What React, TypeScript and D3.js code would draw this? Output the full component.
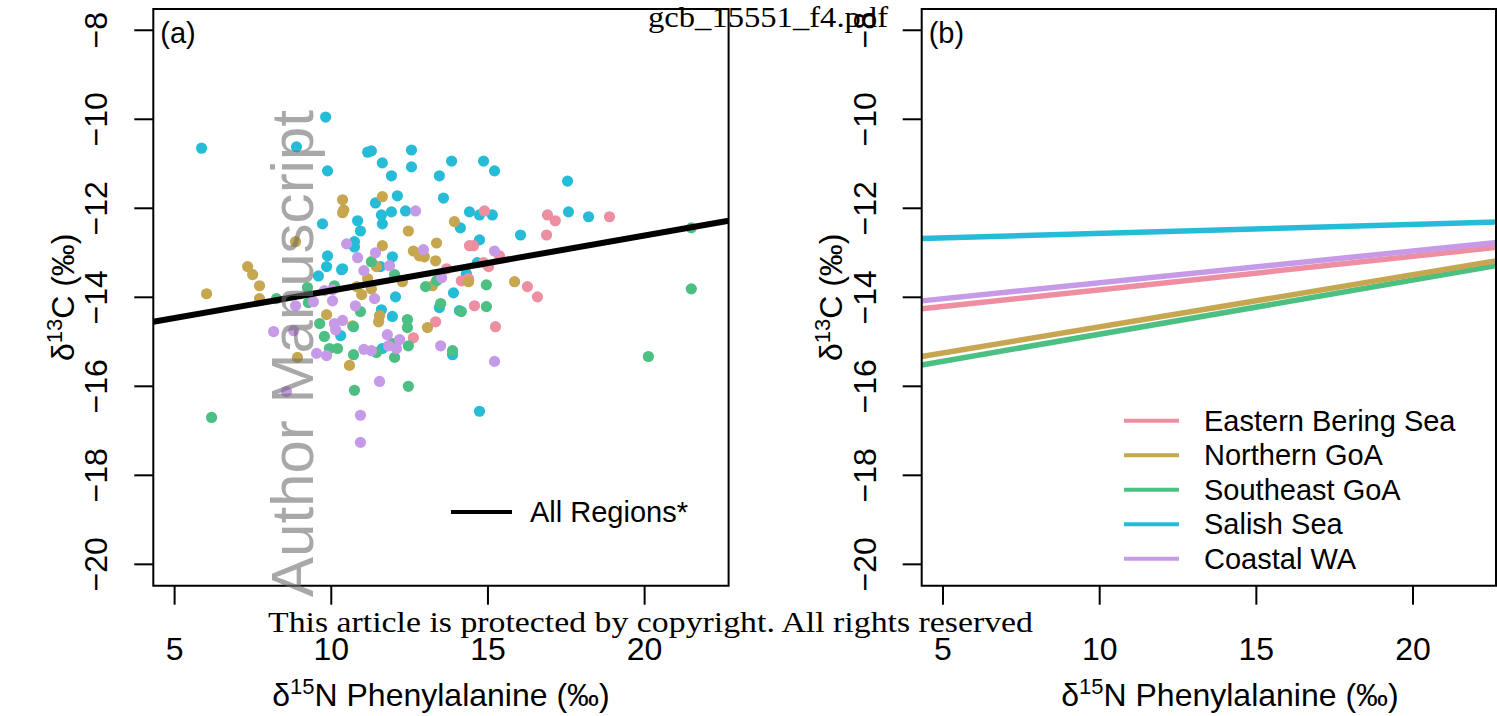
import React from 'react';
import * as d3 from 'd3';

// ---------- data ----------
const regions = ['Eastern Bering Sea', 'Northern GoA', 'Southeast GoA', 'Salish Sea', 'Coastal WA'];
const regionColors = ['#EE8EA1', '#C6A74F', '#4CC083', '#26BCD8', '#C79AE8'];

// [d15N Phe, d13C]
const ebsPoints = [
  [14.89, -12.06], [14.41, -12.84], [14.54, -12.84], [15.37, -13.07], [13.68, -13.36], [14.86, -13.22],
  [15.02, -13.31], [14.15, -13.63], [14.38, -13.58], [16.26, -13.76], [16.58, -13.99], [16.9, -12.15],
  [17.15, -12.28], [16.87, -12.6], [18.88, -12.19], [14.57, -14.19], [13.33, -14.55], [15.24, -14.66],
  [12.62, -14.91],
];
const ngoaPoints = [
  [10.36, -11.81], [10.4, -12.04], [10.36, -12.1], [8.86, -12.75], [7.33, -13.31], [7.49, -13.49],
  [7.71, -13.74], [7.71, -14.03], [6.02, -13.92], [11.63, -11.74], [13.93, -12.3], [12.46, -12.51],
  [11.63, -12.84], [13.36, -12.78], [12.62, -12.96], [12.81, -13.07], [12.97, -13.09], [13.33, -13.18],
  [11.44, -13.31], [11.16, -13.58], [14.38, -13.65], [12.27, -13.65], [15.85, -13.65], [13.23, -13.74],
  [10.81, -13.76], [10.97, -13.94], [11.28, -13.81], [9.85, -14.39], [8.92, -15.35], [10.58, -15.53],
  [11.54, -14.41], [11.51, -14.55], [13.07, -14.68], [10.68, -14.64],
];
const sgoaPoints = [
  [9.24, -13.78], [10.1, -13.74], [8.25, -14.03], [9.27, -14.12], [9.63, -14.59], [9.78, -14.88],
  [9.94, -15.15], [10.2, -15.15], [6.18, -16.7], [11.28, -13.2], [12.02, -13.49], [13.36, -13.63],
  [14.95, -13.72], [13.01, -13.76], [21.49, -12.44], [21.49, -13.81], [20.12, -15.33], [10.93, -14.32],
  [13.49, -14.14], [14.15, -14.32], [14.95, -14.21], [10.71, -14.66], [12.43, -14.5], [12.43, -14.68],
  [11.95, -15.04], [11.44, -15.24], [12.46, -15.09], [10.71, -15.29], [12.02, -15.35], [13.87, -15.2],
  [10.74, -16.09], [12.46, -16.0],
];
const salishPoints = [
  [9.82, -9.95], [5.86, -10.65], [8.89, -10.62], [9.88, -11.16], [9.72, -12.35], [9.88, -13.07],
  [9.85, -13.31], [9.59, -13.52], [10.33, -13.38], [11.16, -10.74], [11.28, -10.71], [12.56, -10.69],
  [11.63, -10.98], [12.56, -11.07], [11.92, -11.27], [13.84, -10.94], [14.86, -10.94], [15.21, -11.16],
  [13.45, -11.27], [12.11, -11.72], [13.58, -11.77], [11.41, -11.88], [11.92, -12.08], [12.37, -12.06],
  [11.6, -12.15], [11.63, -12.35], [10.84, -12.28], [10.93, -12.51], [14.41, -12.08], [14.73, -12.15],
  [15.14, -12.15], [14.12, -12.44], [16.04, -12.6], [14.73, -12.71], [10.74, -12.75], [10.74, -12.87],
  [11.95, -13.09], [11.57, -13.31], [10.36, -13.36], [14.66, -13.22], [14.31, -13.47], [13.9, -13.9],
  [12.05, -13.99], [11.6, -14.28], [11.95, -14.43], [13.45, -14.23], [14.09, -14.3], [10.3, -14.86],
  [11.63, -15.15], [13.87, -15.29], [14.73, -16.56], [17.54, -11.39], [17.57, -12.08], [18.21, -12.19],
];
const cwaPoints = [
  [10.49, -12.8], [9.78, -13.85], [10.04, -13.83], [8.86, -14.19], [9.43, -14.1], [10.04, -14.08],
  [10.1, -14.59], [10.36, -14.52], [10.14, -14.73], [8.16, -14.77], [8.8, -14.75], [9.53, -15.26],
  [9.85, -15.31], [8.57, -16.12], [12.69, -12.06], [12.94, -12.93], [15.21, -12.96], [10.84, -13.11],
  [11.41, -13.0], [11.86, -13.29], [11.04, -13.4], [13.52, -13.56], [11.38, -14.03], [10.77, -14.19],
  [11.79, -14.84], [12.18, -14.95], [11.83, -15.09], [12.08, -15.15], [11.04, -15.17], [11.28, -15.2],
  [13.49, -15.09], [15.21, -15.44], [11.54, -15.89], [10.93, -16.65], [10.93, -17.26],
];
const regionPoints = [ebsPoints, ngoaPoints, sgoaPoints, salishPoints, cwaPoints];

// fitted lines: d13C = intercept + slope * d15N
const regionIntercepts = [-14.585, -15.837, -16.046, -12.767, -14.389];
const regionSlopes = [0.0753, 0.1173, 0.1217, 0.0202, 0.0715];
const allIntercept = -15.084;
const allSlope = 0.1236;

const xTicks = [5, 10, 15, 20];
const yTicks = [-8, -10, -12, -14, -16, -18, -20];
const xDomain = [4.32, 22.68];
const yDomain = [-20.48, -7.52];

// ---------- layout ----------
const W = 1497;
const H = 716;
const top = 8.9;
const bottom = 585.7;
const FONT = "'Liberation Sans', Arial, Helvetica, sans-serif";
const FS = 32;
const LFS = 29;

const yScale = d3.scaleLinear().domain(yDomain).range([bottom, top]);
const xA = d3.scaleLinear().domain(xDomain).range([153.3, 728.6]);
const xB = d3.scaleLinear().domain(xDomain).range([921.7, 1497]);

function YLabel({ x }: { x: number }) {
  const cy = (top + bottom) / 2;
  return (
    <text transform={`translate(${x},${cy}) rotate(-90)`} textAnchor="middle" fontSize={FS} fontFamily={FONT}>
      δ<tspan fontSize={22} dy={-12}>13</tspan><tspan dy={12}>C (‰)</tspan>
    </text>
  );
}

function XLabel({ x }: { x: number }) {
  return (
    <text x={x} y={706} textAnchor="middle" fontSize={FS} fontFamily={FONT}>
      δ<tspan fontSize={22} dy={-12}>15</tspan><tspan dy={12}>N Phenylalanine (‰)</tspan>
    </text>
  );
}

function Axes({ xs, label, boxRight, boxStroke }: { xs: any; label: string; boxRight: number; boxStroke?: string }) {
  const [l] = xs.range();
  return (
    <g>
      <path d={`M${l},${top} H${boxRight} V${bottom} H${l} Z`} fill="none" stroke="#000" strokeWidth={2} />
      {boxStroke && <line x1={boxRight} x2={boxRight} y1={top} y2={bottom} stroke={boxStroke} strokeWidth={2} />}
      {xTicks.map((t) => (
        <g key={'x' + t}>
          <line x1={xs(t)} x2={xs(t)} y1={bottom} y2={bottom + 19} stroke="#000" strokeWidth={2} />
          <text x={xs(t)} y={660} textAnchor="middle" fontSize={FS} fontFamily={FONT}>{t}</text>
        </g>
      ))}
      {yTicks.map((t) => (
        <g key={'y' + t}>
          <line x1={l - 19} x2={l} y1={yScale(t)} y2={yScale(t)} stroke="#000" strokeWidth={2} />
          <text transform={`translate(${l - 46},${yScale(t)}) rotate(-90)`} textAnchor="middle" fontSize={FS} fontFamily={FONT}>
            {t < 0 ? '\u2212' + Math.abs(t) : t}
          </text>
        </g>
      ))}
      <text x={l + 7} y={43} fontSize={LFS} fontFamily={FONT}>{label}</text>
    </g>
  );
}

export default function App() {
  const drawOrder = [3, 0, 1, 2, 4];
  const lineOrder = [2, 1, 0, 4, 3];
  const lineA = d3.line<number>().x((d) => xA(d)).y((d) => yScale(allIntercept + allSlope * d));
  const lineB = (i: number) =>
    d3.line<number>().x((d) => xB(d)).y((d) => yScale(regionIntercepts[i] + regionSlopes[i] * d))(xDomain);

  return (
    <svg width={W} height={H} style={{ position: 'absolute', left: 0, top: 0, background: '#fff' }}>
      <rect x={0} y={0} width={W} height={H} fill="#fff" />
      <defs>
        <clipPath id="clipB">
          <rect x={921.7} y={top} width={1497 - 921.7} height={bottom - top} />
        </clipPath>
      </defs>

      {/* Panel (a) */}
      {drawOrder.map((ri) =>
        regionPoints[ri].map((p, j) => (
          <circle key={ri + '-' + j} cx={xA(p[0])} cy={yScale(p[1])} r={5.6} fill={regionColors[ri]} />
        ))
      )}
      <path d={lineA(xDomain) || ''} stroke="#000" strokeWidth={6} fill="none" />
      <line x1={451} x2={512} y1={512} y2={512} stroke="#000" strokeWidth={4} />
      <text x={530} y={522} fontSize={LFS} fontFamily={FONT}>All Regions*</text>
      <Axes xs={xA} label="(a)" boxRight={728.6} />
      <YLabel x={74} />
      <XLabel x={441} />

      {/* Panel (b) */}
      <g clipPath="url(#clipB)">
        {lineOrder.map((i) => (
          <path key={'l' + i} d={lineB(i) || ''} stroke={regionColors[i]} strokeWidth={5.5} fill="none" />
        ))}
      </g>
      {regions.map((r, i) => (
        <g key={r}>
          <line x1={1124} x2={1179} y1={420.7 + i * 34.5} y2={420.7 + i * 34.5} stroke={regionColors[i]} strokeWidth={4} />
          <text x={1204} y={430.7 + i * 34.5} fontSize={LFS} fontFamily={FONT}>{r}</text>
        </g>
      ))}
      <Axes xs={xB} label="(b)" boxRight={1496} />
      <YLabel x={842.4} />
      <XLabel x={1230} />

      {/* watermarks */}
      <text transform="translate(313,597) rotate(-90)" fontSize={60} fontFamily={FONT} fill="#6e6e6e" fillOpacity={0.6} textLength={487} lengthAdjust="spacingAndGlyphs">
        Author Manuscript
      </text>
      <text x={648} y={27} fontSize={29} fontFamily="'Liberation Serif', 'DejaVu Serif', serif" textLength={240} lengthAdjust="spacingAndGlyphs">
        gcb_15551_f4.pdf
      </text>
      <text x={268} y={632} fontSize={29} fontFamily="'Liberation Serif', 'DejaVu Serif', serif" textLength={765} lengthAdjust="spacingAndGlyphs">
        This article is protected by copyright. All rights reserved
      </text>
    </svg>
  );
}
